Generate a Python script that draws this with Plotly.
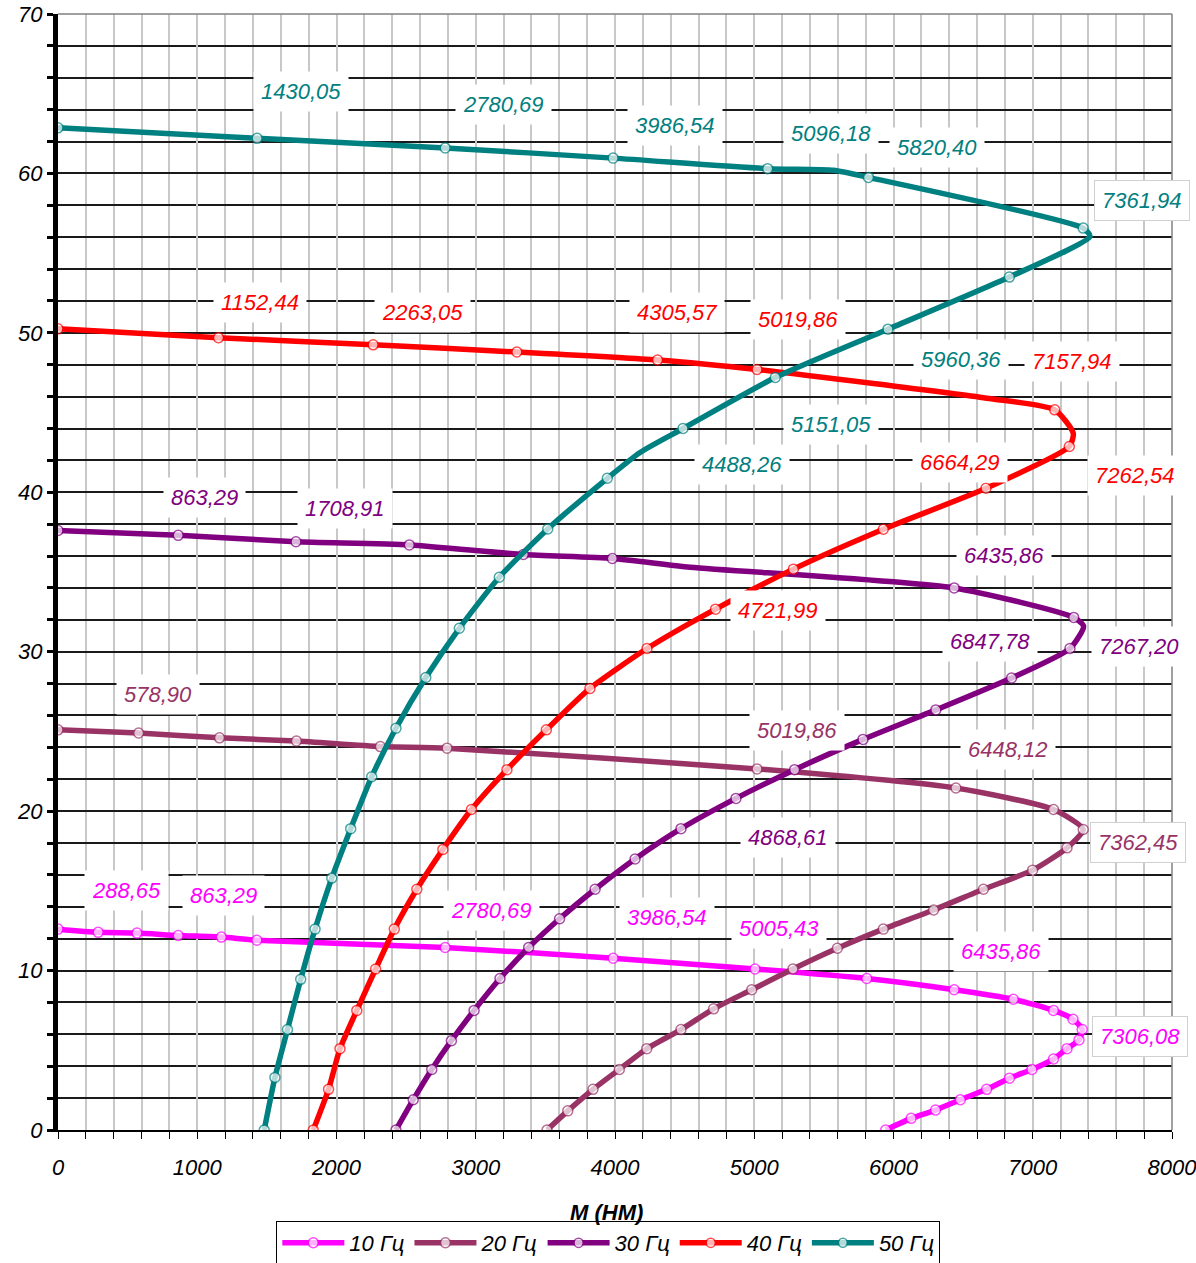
import plotly.graph_objects as go

# ---------------- data (M, Н·м ; n) ----------------
names = ["10 Гц", "20 Гц", "30 Гц", "40 Гц", "50 Гц"]
colors = ["#FF00FF", "#993366", "#800080", "#FF0000", "#008080"]

m10 = [0, 288.65, 567, 863.29, 1173, 1428, 2780.69, 3986.54, 5005.43, 5808, 6435.86,
       6861, 7149, 7289, 7355, 7332, 7246, 7149, 6994, 6833, 6669, 6480, 6302, 6127, 5944]
n10 = [12.6, 12.4, 12.35, 12.2, 12.1, 11.9, 11.45, 10.77, 10.1, 9.5, 8.8,
       8.2, 7.5, 6.95, 6.3, 5.65, 5.1, 4.45, 3.8, 3.25, 2.55, 1.9, 1.25, 0.73, 0]
v10 = [1] * len(m10)

m20 = [0, 578.90, 1160, 1712, 2315, 2794, 5019.86, 6448.12, 7149, 7362.45, 7246, 6999,
       6646, 6288, 5927, 5597, 5278, 4982, 4708, 4474, 4228, 4031, 3842, 3661, 3512]
n20 = [25.1, 24.9, 24.6, 24.4, 24.05, 23.95, 22.65, 21.45, 20.1, 18.85, 17.7, 16.3,
       15.1, 13.8, 12.6, 11.4, 10.1, 8.8, 7.6, 6.3, 5.1, 3.8, 2.55, 1.2, 0]
v20 = [1] * len(m20)

m30 = [0, 863.29, 1708.91, 2523, 3342, 3981, 4540, 6435.86, 7294, 7365, 7267.20, 6847.78,
       6304, 5781, 5290, 4868.61, 4474, 4144, 3857, 3602, 3380, 3174, 2988, 2825, 2684, 2551, 2427]
n30 = [37.6, 37.3, 36.9, 36.7, 36.1, 35.85, 35.3, 34.0, 32.15, 31.6, 30.2, 28.35,
       26.35, 24.5, 22.6, 20.8, 18.9, 17.0, 15.1, 13.25, 11.45, 9.5, 7.5, 5.6, 3.8, 1.9, 0]
v30 = [1, 1, 1, 1, 1, 1, 0, 1, 1, 0, 1, 1, 1, 1, 1, 1, 1, 1, 1, 1, 1, 1, 1, 1, 1, 1, 1]

m40 = [0, 1152.44, 2263.05, 3295, 4305.57, 5019.86, 6669, 7157.94, 7291, 7262.54, 6664.29,
       5927, 5281, 4721.99, 4230, 3820, 3507, 3224, 2969, 2764, 2577, 2415, 2281, 2146, 2025, 1943, 1833]
n40 = [50.25, 49.7, 49.25, 48.8, 48.3, 47.7, 45.9, 45.17, 43.7, 42.87, 40.25,
       37.68, 35.18, 32.67, 30.2, 27.7, 25.1, 22.6, 20.1, 17.6, 15.1, 12.6, 10.1, 7.5, 5.1, 2.55, 0]
v40 = [1, 1, 1, 1, 1, 1, 0, 1, 0, 1, 1, 1, 1, 1, 1, 1, 1, 1, 1, 1, 1, 1, 1, 1, 1, 1, 1]

m50 = [0, 1430.05, 2780.69, 3986.54, 5096.18, 5570, 5820.40, 7361.94, 7411, 6832, 5960.36,
       5151.05, 4488.26, 4180, 3945, 3517, 3169, 2882, 2641, 2427, 2253, 2102, 1966, 1846,
       1743, 1648, 1558, 1481]
n50 = [62.86, 62.2, 61.6, 60.96, 60.3, 60.2, 59.75, 56.57, 56.05, 53.5, 50.23,
       47.2, 44.0, 42.5, 40.88, 37.7, 34.67, 31.47, 28.38, 25.2, 22.16, 18.9, 15.8, 12.6,
       9.45, 6.3, 3.3, 0]
v50 = [1, 1, 1, 1, 1, 0, 1, 1, 0, 1, 1, 1, 1, 0, 1, 1, 1, 1, 1, 1, 1, 1, 1, 1, 1, 1, 1, 1]

# data labels: (point index, label text)
lab10 = [(1, "288,65"), (3, "863,29"), (6, "2780,69"), (7, "3986,54"), (8, "5005,43"),
         (10, "6435,86"), (14, "7306,08")]
lab20 = [(1, "578,90"), (6, "5019,86"), (7, "6448,12"), (9, "7362,45")]
lab30 = [(1, "863,29"), (2, "1708,91"), (7, "6435,86"), (10, "7267,20"), (11, "6847,78"),
         (15, "4868,61")]
lab40 = [(1, "1152,44"), (2, "2263,05"), (4, "4305,57"), (5, "5019,86"), (7, "7157,94"),
         (9, "7262,54"), (10, "6664,29"), (13, "4721,99")]
lab50 = [(1, "1430,05"), (2, "2780,69"), (3, "3986,54"), (4, "5096,18"), (6, "5820,40"),
         (7, "7361,94"), (10, "5960,36"), (11, "5151,05"), (12, "4488,26")]

x_title = "M (HM)"

# ---------------- label placement (pixel offsets from the point) ----------------
off10 = [(28, 42), (45, 40), (46, 37), (54, 41), (24, 40), (47, 38), (58, -7)]
off20 = [(19, 39), (40, 38), (52, 39), (55, -13)]
off30 = [(26, 38), (49, 33), (50, 32), (69, 2), (-22, 37), (52, -39)]
off40 = [(42, 35), (49, 32), (19, 47), (41, 50), (17, 48), (66, -29), (-26, 26), (62, -1)]
off50 = [(44, 47), (58, 43), (62, 33), (63, 35), (69, 30), (59, 28), (73, -30), (56, -47), (59, -36)]
boxed = {"7361,94", "7362,45", "7306,08"}

series = [
    (m10, n10, v10, lab10, off10),
    (m20, n20, v20, lab20, off20),
    (m30, n30, v30, lab30, off30),
    (m40, n40, v40, lab40, off40),
    (m50, n50, v50, lab50, off50),
]

FONT = "Liberation Sans, Arial, sans-serif"
fig = go.Figure()
annotations = []
for (m, n, vis, labs, offs), name, col in zip(series, names, colors):
    fig.add_trace(go.Scatter(
        x=m, y=n, name=name, mode="lines+markers",
        line=dict(color=col, width=5.5, shape="spline", smoothing=0.6),
        marker=dict(symbol="circle", size=[10 * v for v in vis], color="white",
                    line=dict(color=col, width=1.5)),
        hoverinfo="x+y",
    ))
    for (i, txt), (dx, dy) in zip(labs, offs):
        annotations.append(dict(
            x=m[i], y=n[i], xref="x", yref="y", text=txt, showarrow=False,
            xshift=dx, yshift=dy, bgcolor="white", borderpad=7,
            bordercolor="#d0d0d0" if txt in boxed else "rgba(0,0,0,0)",
            borderwidth=1,
            font=dict(family=FONT, size=22, color=col, style="italic"),
        ))

annotations.append(dict(
    x=0.492, y=-0.0735, xref="paper", yref="paper", text=x_title,
    showarrow=False, xanchor="center", yanchor="middle",
    font=dict(family=FONT, size=22, color="black", style="italic", weight="bold"),
))

fig.update_layout(
    width=1196, height=1263,
    margin=dict(l=58, r=24, t=14, b=133, autoexpand=False),
    paper_bgcolor="white", plot_bgcolor="white",
    showlegend=True,
    legend=dict(
        orientation="h", x=0.494, xanchor="center",
        yref="container", y=1 - 1221 / 1263, yanchor="top",
        bgcolor="white", bordercolor="black", borderwidth=1,
        font=dict(family=FONT, size=22, color="black", style="italic"),
        itemwidth=62, tracegroupgap=0,
    ),
    annotations=annotations,
    xaxis=dict(
        range=[0, 8000], dtick=1000, tick0=0, automargin=False,
        showgrid=True, gridcolor="#c8c8c8", gridwidth=1.5,
        minor=dict(dtick=200, showgrid=True, gridcolor="#c8c8c8", gridwidth=1.5,
                   ticks="outside", ticklen=7, tickcolor="black", tickwidth=1),
        ticks="outside", ticklen=7, tickcolor="black", tickwidth=1,
        ticklabelstandoff=10, ticklabeloverflow="allow",
        showline=True, linecolor="black", linewidth=1.5, zeroline=False,
        tickfont=dict(family=FONT, size=22, color="black", style="italic"),
    ),
    yaxis=dict(
        range=[0, 70], dtick=10, tick0=0, automargin=False,
        showgrid=True, gridcolor="#1a1a1a", gridwidth=1.5,
        minor=dict(dtick=2, showgrid=True, gridcolor="#1a1a1a", gridwidth=1.5,
                   ticks="outside", ticklen=6, tickcolor="black", tickwidth=3),
        ticks="outside", ticklen=6, tickcolor="black", tickwidth=3,
        ticklabeloverflow="allow",
        showline=True, linecolor="black", linewidth=5, zeroline=False,
        tickfont=dict(family=FONT, size=22, color="black", style="italic"),
    ),
    shapes=[
        dict(type="line", xref="paper", yref="paper", x0=0, x1=1, y0=1, y1=1,
             line=dict(color="#808080", width=1.5)),
        dict(type="line", xref="paper", yref="paper", x0=1, x1=1, y0=0, y1=1,
             line=dict(color="#808080", width=1.5)),
    ],
)

fig.write_html("out.html")
